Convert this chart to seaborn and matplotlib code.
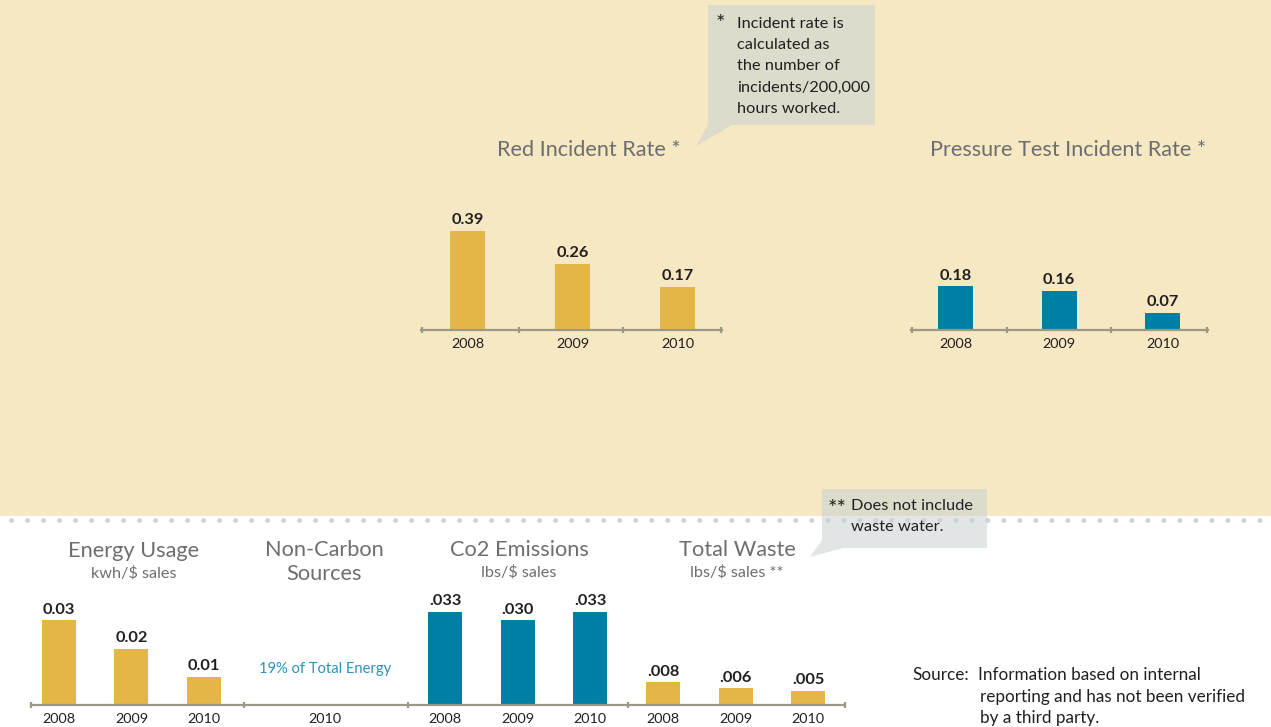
import matplotlib
matplotlib.use("Agg")
import matplotlib.pyplot as plt
import seaborn as sns
import numpy as np
from matplotlib.patches import Rectangle, Polygon
from matplotlib.lines import Line2D

# ---------------- data ----------------
years = ["2008", "2009", "2010"]
red_rate = [0.39, 0.26, 0.17]
red_labels = ["0.39", "0.26", "0.17"]
pressure_rate = [0.18, 0.16, 0.07]
pressure_labels = ["0.18", "0.16", "0.07"]
energy_usage = [0.03, 0.02, 0.01]
energy_labels = ["0.03", "0.02", "0.01"]
non_carbon_years = ["2010"]
non_carbon_note = "19% of Total Energy"
co2_emissions = [0.033, 0.030, 0.033]
co2_labels = [".033", ".030", ".033"]
total_waste = [0.008, 0.006, 0.005]
waste_labels = [".008", ".006", ".005"]

# ---------------- style ----------------
sns.set_style("white")
plt.rcParams["font.family"] = ["Lato", "DejaVu Sans"]

BEIGE = "#F6E8C3"
GOLD = "#E3B647"
BLUE = "#007FA5"
AXIS = "#9B9885"
GREY_TXT = "#6D6E71"
DARK = "#231F20"
BLUE_TXT = "#2B91B5"
DOTS = "#D0D4D9"
CALLOUT = (202/255, 209/255, 211/255, 0.55)

W, H = 1271, 727
fig = plt.figure(figsize=(W / 100, H / 100), dpi=100)
fig.patch.set_facecolor("white")
renderer = fig.canvas.get_renderer()


def fx(x):
    return x / W


def fy(y):
    return 1 - y / H


def fit(s, target_px, **kw):
    t = fig.text(0, 0, s, fontsize=20, **kw)
    w = t.get_window_extent(renderer).width
    t.remove()
    return 20 * target_px / w


TITLE_FS = fit("Pressure Test Incident Rate *", 277)
BTITLE_FS = fit("Energy Usage", 131)
SUB_FS = fit("kwh/$ sales", 86)
VAL_FS = fit("0.39", 30, fontweight="bold") * 1.08
YEAR_FS = fit("2008", 31) * 1.08
NOTE_FS = fit("incidents/200,000", 133)
SRC_FS = fit("reporting and has not been verified", 265)
BLUE_FS = fit(non_carbon_note, 132)

# background
fig.add_artist(Rectangle((0, fy(516)), 1, 516 / H, transform=fig.transFigure,
                         facecolor=BEIGE, edgecolor="none", zorder=-5))
fig.add_artist(Line2D([fx(10.7), fx(1263)], [fy(520), fy(520)], transform=fig.transFigure,
                      color=DOTS, lw=3.6, linestyle=(0, (0.001, 3.2)),
                      dash_capstyle="round", zorder=-4))


def callout(pts):
    fig.add_artist(Polygon([(fx(x), fy(y)) for x, y in pts], closed=True,
                           transform=fig.transFigure, facecolor=CALLOUT,
                           edgecolor="none", zorder=-3))


callout([(708, 5), (875, 5), (875, 125), (732, 125), (696, 146), (708, 125)])
callout([(822, 489), (987, 489), (987, 548), (843, 548), (810, 557), (822, 540)])


def panel(left, right, base, centers, scale, height, values, labels, color, bar_px,
          cats=years):
    ax = fig.add_axes([fx(left), fy(base), (right - left) / W, height / H])
    spacing = (centers[-1] - centers[0]) / (len(centers) - 1) if len(centers) > 1 else 72.5
    x0 = centers[0]
    lo = (left - x0) / spacing
    hi = (right - x0) / spacing
    if values is not None:
        sns.barplot(x=cats, y=values, color=color, width=bar_px / spacing,
                    saturation=1, ax=ax, errorbar=None, edgecolor="none", linewidth=0)
        ax.bar_label(ax.containers[0], labels=labels, padding=2.5,
                     fontsize=VAL_FS, fontweight="bold", color=DARK)
    ax.set_xlim(lo, hi)
    ax.set_ylim(0, height / scale)
    ax.set_facecolor("none")
    for s in ["top", "left", "right"]:
        ax.spines[s].set_visible(False)
    ax.spines["bottom"].set_color(AXIS)
    ax.spines["bottom"].set_linewidth(1.6)
    ax.set_yticks([])
    ax.set_xticks(range(len(cats)), cats)
    ax.tick_params(axis="x", which="major", length=0, pad=5.8,
                   labelsize=YEAR_FS, labelcolor=DARK)
    ax.set_xlabel("")
    ax.set_ylabel("")
    return ax, lo, hi


def end_ticks(ax, positions):
    ax.set_xticks(positions, minor=True)
    ax.tick_params(axis="x", which="minor", bottom=True, length=5, width=1.6,
                   color=AXIS, direction="inout")


# ---- top panels ----
ax_red, lo, hi = panel(421, 722, 330, [467.5, 572.5, 677.5], 254, 150,
                       red_rate, red_labels, GOLD, 35)
end_ticks(ax_red, [lo + 0.006, 0.49, 1.48, hi - 0.006])

ax_pr, lo, hi = panel(911, 1208, 330, [955.5, 1059.5, 1162.5], 244, 150,
                      pressure_rate, pressure_labels, BLUE, 35)
end_ticks(ax_pr, [lo + 0.006, 0.5, 1.5, hi - 0.006])

fig.text(fx(589), fy(150), "Red Incident Rate *", ha="center", va="center",
         fontsize=TITLE_FS, color=GREY_TXT)
fig.text(fx(1068), fy(150), "Pressure Test Incident Rate *", ha="center", va="center",
         fontsize=TITLE_FS, color=GREY_TXT)

# ---- bottom panels ----
BS = 2820
BASE = 705
panels_bottom = []
ax_en, lo, hi = panel(31, 244, BASE, [59, 131.5, 204], BS, 130,
                      energy_usage, energy_labels, GOLD, 34)
panels_bottom.append((ax_en, lo, hi))
ax_nc, lo, hi = panel(244, 408, BASE, [325], BS, 130, None, None, GOLD, 34,
                      cats=non_carbon_years)
panels_bottom.append((ax_nc, lo, hi))
ax_nc.annotate(non_carbon_note, xy=(0, 0), xytext=(0, 36 * 0.72), textcoords="offset points",
               ha="center", va="center", fontsize=BLUE_FS, color=BLUE_TXT)
ax_co, lo, hi = panel(408, 628, BASE, [445, 518, 590], BS, 130,
                      co2_emissions, co2_labels, BLUE, 34)
panels_bottom.append((ax_co, lo, hi))
ax_wa, lo, hi = panel(628, 845, BASE, [663, 735.5, 808], BS, 130,
                      total_waste, waste_labels, GOLD, 34)
panels_bottom.append((ax_wa, lo, hi))
for i, (ax, lo, hi) in enumerate(panels_bottom):
    ticks = [lo + 0.006]
    if i == len(panels_bottom) - 1:
        ticks.append(hi - 0.006)
    end_ticks(ax, ticks)

for x, t1, y1, t2, y2 in [
    (134, "Energy Usage", 551, "kwh/$ sales", 573.5),
    (324, "Non-Carbon", 550.5, "Sources", 573.5),
    (519, "Co2 Emissions", 550, "lbs/$ sales", 572.5),
    (737, "Total Waste", 550, "lbs/$ sales **", 572.5),
]:
    fig.text(fx(x), fy(y1), t1, ha="center", va="center", fontsize=BTITLE_FS, color=GREY_TXT)
    fs = BTITLE_FS if t2 == "Sources" else SUB_FS
    fig.text(fx(x), fy(y2), t2, ha="center", va="center", fontsize=fs, color=GREY_TXT)

# ---- notes ----
fig.text(fx(716), fy(24), "*", ha="left", va="center", fontsize=NOTE_FS * 1.35, color=DARK)
for i, line in enumerate(["Incident rate is", "calculated as", "the number of",
                          "incidents/200,000", "hours worked."]):
    fig.text(fx(737), fy(23.5 + 21.4 * i), line, ha="left", va="center",
             fontsize=NOTE_FS, color=DARK)

fig.text(fx(828), fy(509), "**", ha="left", va="center", fontsize=NOTE_FS * 1.35, color=DARK)
fig.text(fx(851), fy(506), "Does not include", ha="left", va="center", fontsize=NOTE_FS, color=DARK)
fig.text(fx(851), fy(527), "waste water.", ha="left", va="center", fontsize=NOTE_FS, color=DARK)

fig.text(fx(912), fy(675), "Source:", ha="left", va="center", fontsize=SRC_FS, color=DARK)
fig.text(fx(978), fy(675), "Information based on internal", ha="left", va="center",
         fontsize=SRC_FS, color=DARK)
fig.text(fx(980), fy(697), "reporting and has not been verified", ha="left", va="center",
         fontsize=SRC_FS, color=DARK)
fig.text(fx(980), fy(718), "by a third party.", ha="left", va="center",
         fontsize=SRC_FS, color=DARK)

fig.savefig("out.png", dpi=100, facecolor="white")
